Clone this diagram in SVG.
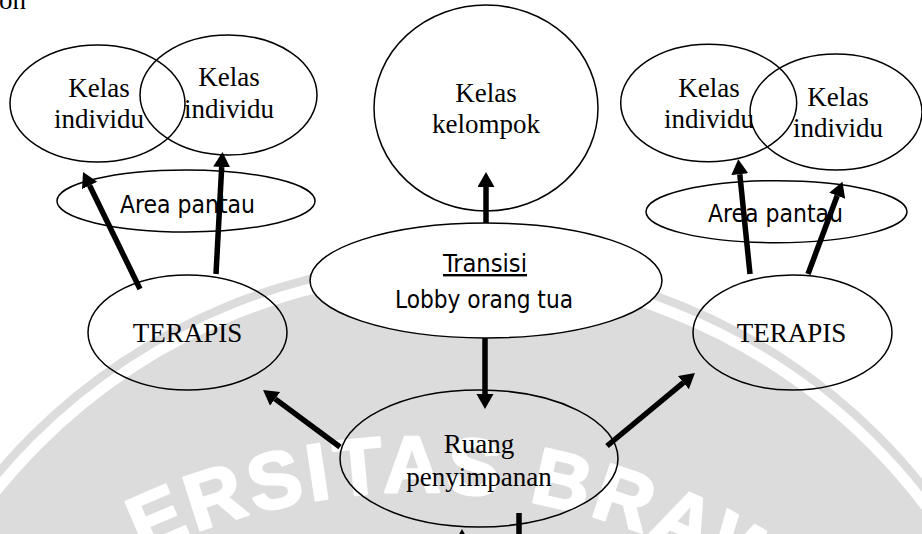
<svg xmlns="http://www.w3.org/2000/svg" width="922" height="534" viewBox="0 0 922 534">
  <style>
    .node { fill: none; stroke: #000; stroke-width: 1.5; }
    .filled { fill: #fff; }
    .serif { font-family: "Liberation Serif", "Times New Roman", serif; font-size: 27px; fill: #000; text-anchor: middle; }
    .sans { font-family: "DejaVu Sans", "Liberation Sans", sans-serif; font-stretch: condensed; font-size: 24px; fill: #000; text-anchor: middle; }
    .edge { stroke: #000; stroke-width: 5.5; fill: none; }
    .wm { font-family: "Liberation Sans", Arial, sans-serif; font-weight: bold; font-size: 80px; fill: #fff; stroke: #fff; stroke-width: 2.5; stroke-linejoin: round; letter-spacing: 4px; }
  </style>
  <defs>
    <marker id="head" markerUnits="userSpaceOnUse" markerWidth="16" markerHeight="18" refX="0" refY="8.5" orient="auto">
      <path d="M0,0 L15,8.5 L0,17 Z" fill="#000"/>
    </marker>
    <path id="arc" d="M143,555 A632,632 0 0 1 920,740"/>
  </defs>

  <rect width="922" height="534" fill="#fff"/>

  <!-- background seal -->
  <g id="seal">
    <circle cx="455" cy="860" r="603" fill="#dcdcdc"/>
    <circle cx="455" cy="860" r="589" fill="none" stroke="#fff" stroke-width="11"/>
    <text class="wm"><textPath href="#arc">ERSITAS BRAWI</textPath></text>
  </g>

  <text x="-1" y="9" font-family="Liberation Serif, serif" font-size="27" fill="#000">on</text>

  <g id="kelas-individu-1">
    <ellipse class="node" cx="97.5" cy="103.5" rx="87.5" ry="58.5"/>
    <text class="serif" x="99" y="97">Kelas</text>
    <text class="serif" x="99" y="128">individu</text>
  </g>
  <g id="kelas-individu-2">
    <ellipse class="node" cx="228.5" cy="95" rx="88.5" ry="60"/>
    <text class="serif" x="229" y="86">Kelas</text>
    <text class="serif" x="229" y="118">individu</text>
  </g>
  <g id="kelas-kelompok">
    <ellipse class="node" cx="486" cy="108" rx="112" ry="103"/>
    <text class="serif" x="486" y="102">Kelas</text>
    <text class="serif" x="486" y="133">kelompok</text>
  </g>
  <g id="kelas-individu-3">
    <ellipse class="node" cx="708.7" cy="103" rx="88" ry="58.7"/>
    <text class="serif" x="709" y="97">Kelas</text>
    <text class="serif" x="709" y="128">individu</text>
  </g>
  <g id="kelas-individu-4">
    <ellipse class="node" cx="836" cy="112" rx="86" ry="58"/>
    <text class="serif" x="838" y="106">Kelas</text>
    <text class="serif" x="838" y="137">individu</text>
  </g>

  <g id="area-pantau-1">
    <ellipse class="node" cx="186" cy="201" rx="129" ry="31"/>
    <text class="sans" x="187.5" y="213" textLength="135" lengthAdjust="spacingAndGlyphs">Area pantau</text>
  </g>
  <g id="area-pantau-2">
    <ellipse class="node" cx="776.5" cy="211.7" rx="130.5" ry="31"/>
    <text class="sans" x="775.5" y="222" textLength="135" lengthAdjust="spacingAndGlyphs">Area pantau</text>
  </g>

  <g id="transisi">
    <ellipse class="node filled" cx="486" cy="280.5" rx="176" ry="57.5"/>
    <text class="sans" x="485" y="272" text-decoration="underline" textLength="84" lengthAdjust="spacingAndGlyphs">Transisi</text>
    <text class="sans" x="484" y="308" textLength="178" lengthAdjust="spacingAndGlyphs">Lobby orang tua</text>
  </g>

  <g id="terapis-1">
    <ellipse class="node" cx="187.5" cy="332.5" rx="99.5" ry="57.5"/>
    <text class="serif" x="187.5" y="342">TERAPIS</text>
  </g>
  <g id="terapis-2">
    <ellipse class="node" cx="792.5" cy="332.5" rx="99.5" ry="57.5"/>
    <text class="serif" x="791.5" y="342">TERAPIS</text>
  </g>

  <g id="ruang-penyimpanan">
    <ellipse class="node" cx="479" cy="458.5" rx="139" ry="68.5"/>
    <text class="serif" x="479" y="453">Ruang</text>
    <text class="serif" x="479" y="486">penyimpanan</text>
  </g>

  <g id="connectors">
    <line class="edge" x1="486" y1="223" x2="486" y2="187" marker-end="url(#head)"/>
    <line class="edge" x1="485" y1="338" x2="485" y2="394" marker-end="url(#head)"/>
    <line class="edge" x1="340" y1="447" x2="275.1" y2="398.9" marker-end="url(#head)"/>
    <line class="edge" x1="607" y1="446" x2="683.4" y2="382.6" marker-end="url(#head)"/>
    <line class="edge" x1="140" y1="289" x2="89.6" y2="185.5" marker-end="url(#head)"/>
    <line class="edge" x1="216" y1="274" x2="221.7" y2="167" marker-end="url(#head)"/>
    <line class="edge" x1="750" y1="274" x2="739.8" y2="174.2" marker-end="url(#head)"/>
    <line class="edge" x1="808" y1="274" x2="837.2" y2="195.8" marker-end="url(#head)"/>
    <line class="edge" x1="462" y1="560" x2="462" y2="544" marker-end="url(#head)"/>
    <line class="edge" x1="519" y1="513" x2="519" y2="540"/>
  </g>
</svg>
